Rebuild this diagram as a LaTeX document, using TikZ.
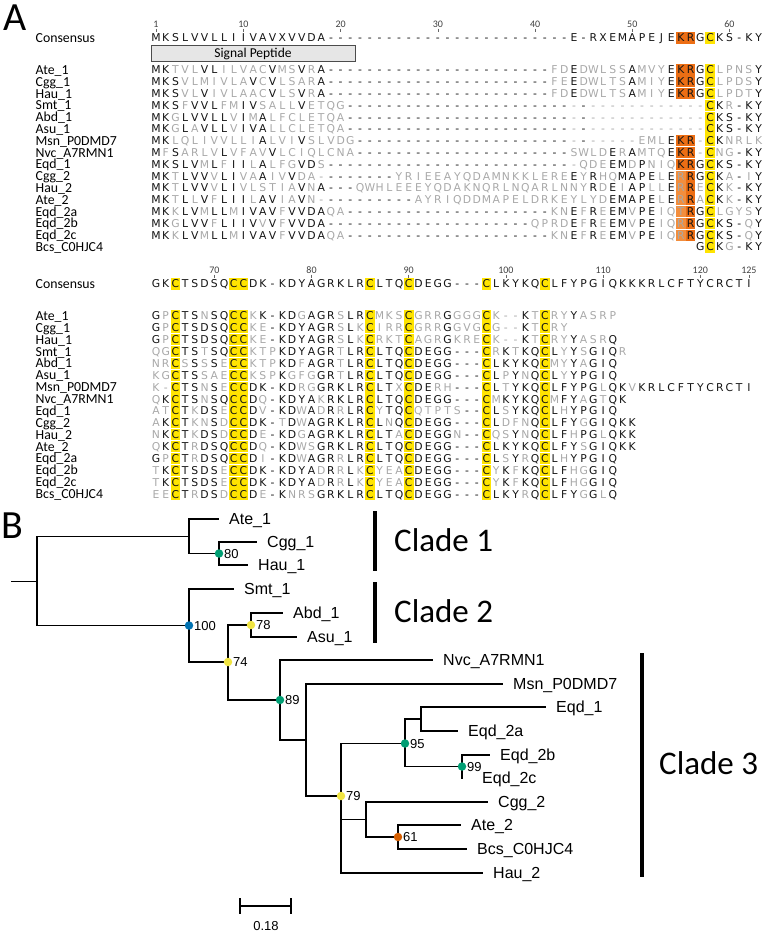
\documentclass[tikz,border=0pt]{standalone}
\usepackage{fontspec}
\usepackage{xcolor}
\usepackage{tikz}
\usetikzlibrary{positioning}
\setmainfont{Carlito}
\newfontfamily\resfam{DejaVu Sans}
\newfontfamily\treefam{Liberation Sans}

\definecolor{resdark}{RGB}{20,20,20}
\definecolor{reslight}{RGB}{168,168,168}
\definecolor{cysbox}{RGB}{255,228,0}
\definecolor{krdark}{RGB}{236,110,20}
\definecolor{krlight}{RGB}{242,142,62}
\definecolor{sigfill}{RGB}{230,230,230}
\definecolor{bsgreen}{RGB}{0,158,115}
\definecolor{bsblue}{RGB}{0,114,178}
\definecolor{bsyellow}{RGB}{240,228,66}
\definecolor{bsorange}{RGB}{213,94,0}

\tikzstyle{res} = [inner sep=0pt, text height=7.9pt, text depth=0pt, font=\resfam\fontsize{10.8}{10.8}\selectfont]
\tikzstyle{rowlab} = [anchor=west, inner sep=0pt, text height=8.9pt, text depth=0pt, font=\fontsize{13.8}{13.8}\selectfont]
\tikzstyle{posnum} = [inner sep=0pt, text=black!75, font=\fontsize{10}{10}\selectfont]
\tikzstyle{tickmark} = [black!60, line width=0.6pt]
\tikzstyle{sigbox} = [draw=black!70, fill=sigfill, line width=0.8pt, minimum width=204pt, minimum height=15.5pt, inner sep=0pt, font=\fontsize{13.5}{13.5}\selectfont]
\tikzstyle{panel} = [anchor=west, inner sep=0pt, font=\fontsize{40}{40}\selectfont]
\tikzstyle{branch} = [line width=1.4pt]
\tikzstyle{leaf} = [inner sep=0pt, text height=11.5pt, text depth=0pt, font=\treefam\fontsize{16}{16}\selectfont]
\tikzstyle{bsdot} = [circle, inner sep=0pt, minimum size=8.5pt]
\tikzstyle{boot} = [inner sep=0pt, text height=9.3pt, text depth=0pt, font=\treefam\fontsize{13}{13}\selectfont]
\tikzstyle{cladebar} = [line width=4.5pt]
\tikzstyle{clade} = [anchor=west, inner sep=0pt, text height=21.3pt, text depth=0pt, font=\fontsize{33}{33}\selectfont]

% alignment grid
\def\xzero{156}
\def\colw{9.72}
\newcount\rescol
\def\rep#1#2{\ifnum#1>0 #2\expandafter\rep\expandafter{\the\numexpr#1-1\relax}{#2}\fi}
\expandafter\def\csname cys58\endcsname{}
\expandafter\def\csname cys66\endcsname{}
\expandafter\def\csname cys72\endcsname{}
\expandafter\def\csname cys73\endcsname{}
\expandafter\def\csname cys86\endcsname{}
\expandafter\def\csname cys90\endcsname{}
\expandafter\def\csname cys98\endcsname{}
\expandafter\def\csname cys104\endcsname{}
\expandafter\def\csname kr55\endcsname{}
\expandafter\def\csname kr56\endcsname{}

\def\seqrow#1#2#3#4#5#6{%
  \def\rowtag{#1}\def\rowy{#3}\def\firstcol{#4}\rescol=#4\relax
  \node (#1-lab) [rowlab] at (35.5,#3) {#2};
  \edef\seqtmp{\noexpand\seqwalk#5\relax#6\relax}\seqtmp}
\def\seqwalk#1#2\relax#3#4\relax{%
  \seqres{#1}{#3}%
  \advance\rescol by 1\relax
  \ifx\relax#2\relax\expandafter\seqstop\else\expandafter\seqnext\fi{#2}{#4}}
\def\seqstop#1#2{}
\def\seqnext#1#2{\seqwalk#1\relax#2\relax}
\def\seqres#1#2{%
  \pgfmathsetmacro\resx{\xzero+(\the\rescol-\firstcol)*\colw}%
  \if.#1\else
    \ifx#1#2\def\rescolor{resdark}\else\def\rescolor{reslight}\fi
    \ifcsname cys\the\rescol\endcsname
      \if C#1\fill [cysbox] (\resx-4.86,\rowy-5.6) rectangle (\resx+4.86,\rowy+5.6);\fi
    \fi
    \ifcsname kr\the\rescol\endcsname
      \if-#1\else
        \ifx#1#2\fill [krdark] (\resx-4.86,\rowy-5.6) rectangle (\resx+4.86,\rowy+5.6);%
        \else\fill [krlight] (\resx-4.86,\rowy-5.6) rectangle (\resx+4.86,\rowy+5.6);\fi
      \fi
    \fi
    \node (\rowtag-\the\rescol) [res, text=\rescolor] at (\resx,\rowy) {#1};
  \fi}

\edef\consA{MKSLVVLLIIVAVXVVDA\rep{25}{-}E-RXEMAPEJEKRGCKS-KY}
\edef\consB{GKCTSDSQCCDK-KDYAGRKLRCLTQCDEGG---CLKYKQCLFYPGIQKKKRLCFTYCRCTI}

\begin{document}
\begin{tikzpicture}[x=1pt, y=-1pt]
        \useasboundingbox (0,0) rectangle (764,935);

        \node (panelA) [panel] at (3,18) {A};
        \node (panelB) [panel] at (1,526) {B};

        % block 1
        \foreach \c in {1,10,20,30,40,50,60} {
            \pgfmathsetmacro\tx{\xzero+(\c-1)*\colw}
            \node (tickA\c) [posnum] at (\tx,24) {\c};
            \draw [tickmark] (\tx,28.5) -- (\tx,31.5);
        }
        \seqrow{consa}{Consensus}{38}{1}{\consA}{\consA}
        \node (sigpep) [sigbox] at (253,53.5) {Signal Peptide};
        \seqrow{ate1a}{Ate\_1}{70}{1}{MKTVLVLILVACVMSVRA\rep{23}{-}FDEDWLSSAMVYEKRGCLPNSY}{\consA}
        \seqrow{cgg1a}{Cgg\_1}{81.8}{1}{MKSVLMIVLAVCVLSARA\rep{23}{-}FEEDWLTSAMIYEKRGCLPDSY}{\consA}
        \seqrow{hau1a}{Hau\_1}{93.6}{1}{MKSVLVIVLAACVLSVRA\rep{23}{-}FDEDWLTSAMIYEKRGCLPDTY}{\consA}
        \seqrow{smt1a}{Smt\_1}{105.4}{1}{MKSFVVLFMIVSALLVETQG\rep{37}{-}CKR-KY}{\consA}
        \seqrow{abd1a}{Abd\_1}{117.2}{1}{MKGLVVLLVIMALFCLETQA\rep{37}{-}CKS-KY}{\consA}
        \seqrow{asu1a}{Asu\_1}{129}{1}{MKGLAVLLVIVALLCLETQA\rep{37}{-}CKS-KY}{\consA}
        \seqrow{msna}{Msn\_P0DMD7}{140.8}{1}{MKLQLIVVLLIALVIVSLVDG\rep{29}{-}EMLEKR-CKNRLK}{\consA}
        \seqrow{nvca}{Nvc\_A7RMN1}{152.6}{1}{MFSARLVLVFAVVLCIQLCNA\rep{22}{-}SWLDERAMTQEKR-CNG-KY}{\consA}
        \seqrow{eqd1a}{Eqd\_1}{164.4}{1}{MKSLVMLFIILALFGVDS\rep{26}{-}QDEEMDPNIQKRGCKS-KY}{\consA}
        \seqrow{cgg2a}{Cgg\_2}{176.2}{1}{MKTLVVVLIVAAIVVDA\rep{8}{-}YRIEEAYQDAMNKKLEREEYRHQMAPELERRGCKA-IY}{\consA}
        \seqrow{hau2a}{Hau\_2}{188}{1}{MKTLVVVLIVLSTIAVNA\rep{3}{-}QWHLEEEYQDAKNQRLNQARLNNYRDEIAPLLERRECKK-KY}{\consA}
        \seqrow{ate2a}{Ate\_2}{199.8}{1}{MKTLLVFLIILAVIAVN\rep{10}{-}AYRIQDDMAPELDRKEYLYDEMAPELERRACKK-KY}{\consA}
        \seqrow{eqd2aa}{Eqd\_2a}{211.6}{1}{MKKLVMLLMIVAVFVVDAQA\rep{21}{-}KNEFREEMVPEIQTRGCLGYSY}{\consA}
        \seqrow{eqd2ba}{Eqd\_2b}{223.4}{1}{MKGLVVFLIIVVVFVVDA\rep{21}{-}QPRDEFREEMVPEIQRRGCKS-QY}{\consA}
        \seqrow{eqd2ca}{Eqd\_2c}{235.2}{1}{MKKLVMLLMIVAVFVVDAQA\rep{21}{-}KNEFREEMVPEIQRRGCKS-QY}{\consA}
        \seqrow{bcsa}{Bcs\_C0HJC4}{247}{1}{\rep{56}{.}GCKG-KY}{\consA}

        % block 2
        \foreach \c in {70,80,90,100,110,120,125} {
            \pgfmathsetmacro\tx{\xzero+(\c-64)*\colw}
            \node (tickB\c) [posnum] at (\tx,270) {\c};
            \draw [tickmark] (\tx,274.5) -- (\tx,277.5);
        }
        \seqrow{consb}{Consensus}{284}{64}{\consB}{\consB}
        \seqrow{ate1b}{Ate\_1}{316}{64}{GPCTSNSQCCKK-KDGAGRSLRCMKSCGRRGGGGCK--KTCRYYASRP}{\consB}
        \seqrow{cgg1b}{Cgg\_1}{327.87}{64}{GPCTSDSQCCKE-KDYAGRSLKCIRRCGRRGGVGCG--KTCRY}{\consB}
        \seqrow{hau1b}{Hau\_1}{339.74}{64}{GPCTSDSQCCKE-KDYAGRSLKCRKTCAGRGKRECK--KTCRYYASRQ}{\consB}
        \seqrow{smt1b}{Smt\_1}{351.61}{64}{QGCTSTSQCCKTPKDYAGRTLRCLTQCDEGG---CRKTKQCLYYSGIQR}{\consB}
        \seqrow{abd1b}{Abd\_1}{363.48}{64}{NRCSSSSECCKTPKDFAGRTLRCLTQCDEGG---CLKYKQCMYYAGIQ}{\consB}
        \seqrow{asu1b}{Asu\_1}{375.35}{64}{KGCTSSAECCKSPKGFGGRTLRCLTQCDEGG---CLPYNQCLYYPGIQ}{\consB}
        \seqrow{msnb}{Msn\_P0DMD7}{387.22}{64}{K-CTSNSECCDK-KDRGGRKLRCLTXCDERH---CLTYKQCLFYPGLQKVKRLCFTYCRCTI}{\consB}
        \seqrow{nvcb}{Nvc\_A7RMN1}{399.09}{64}{QKCTSNSQCCDQ-KDYAKRKLRCLTQCDEGG---CMKYKQCMFYAGTQK}{\consB}
        \seqrow{eqd1b}{Eqd\_1}{410.96}{64}{ATCTKDSECCDV-KDWADRRLRCYTQCQTPTS--CLSYKQCLHYPGIQ}{\consB}
        \seqrow{cgg2b}{Cgg\_2}{422.83}{64}{AKCTKNSDCCDK-TDWAGRKLRCLNQCDEGG---CLDFNQCLFYGGIQKK}{\consB}
        \seqrow{hau2b}{Hau\_2}{434.7}{64}{NKCTKDSDCCDE-KDGAGRKLRCLTACDEGGN--CQSYNQCLFHPGLQKK}{\consB}
        \seqrow{ate2b}{Ate\_2}{446.57}{64}{QKCTRDSQCCDQ-KDWSGRKLRCLTQCDEGG---CLKYKQCLFYSGIQKK}{\consB}
        \seqrow{eqd2ab}{Eqd\_2a}{458.44}{64}{GPCTRDSQCCDI-KDWAGRRLRCLTQCDEGG---CLSYRQCLHYPGIQ}{\consB}
        \seqrow{eqd2bb}{Eqd\_2b}{470.31}{64}{TKCTSDSECCDK-KDYADRRLKCYEACDEGG---CYKFKQCLFHGGIQ}{\consB}
        \seqrow{eqd2cb}{Eqd\_2c}{482.18}{64}{TKCTSDSECCDK-KDYADRRLKCYEACDEGG---CYKFKQCLFHGGIQ}{\consB}
        \seqrow{bcsb}{Bcs\_C0HJC4}{494.05}{64}{EECTRDSDCCDE-KNRSGRKLRCLTQCDEGG---CLKYRQCLFYGGLQ}{\consB}

        % tree
        \coordinate (stub) at (11,581.5);
        \coordinate (root) at (37,581.5);
        \coordinate (nC1) at (189,536.5);
        \coordinate (n80) at (219,553.5);
        \coordinate (n100) at (189,625.5);
        \coordinate (n78) at (251,625);
        \coordinate (n74) at (228,662);
        \coordinate (n89) at (280,700);
        \coordinate (nMsn) at (306,740);
        \coordinate (n79) at (341,796);
        \coordinate (n95) at (405,743.5);
        \coordinate (nEqd) at (421,719);
        \coordinate (n99) at (462,766.5);
        \coordinate (nCA) at (366,819.5);
        \coordinate (n61) at (398,837);

        \coordinate (pAte1) at (219,519);
        \coordinate (pCgg1) at (257,542);
        \coordinate (pHau1) at (248,565);
        \coordinate (pSmt1) at (234,589);
        \coordinate (pAbd1) at (283,613);
        \coordinate (pAsu1) at (297,637);
        \coordinate (pNvc) at (433,660);
        \coordinate (pMsn) at (503,684);
        \coordinate (pEqd1) at (546,707);
        \coordinate (pEqd2a) at (458,731);
        \coordinate (pEqd2b) at (490,755);
        \coordinate (pEqd2c) at (463,778);
        \coordinate (pCgg2) at (488,802);
        \coordinate (pAte2) at (461,825);
        \coordinate (pBcs) at (467,849);
        \coordinate (pHau2) at (483,873);

        \draw [branch] (stub) -- (root);
        \draw [branch] (root) |- (nC1);
        \draw [branch] (root) |- (n100);
        \draw [branch] (nC1) |- (pAte1);
        \draw [branch] (nC1) |- (n80);
        \draw [branch] (n80) |- (pCgg1);
        \draw [branch] (n80) |- (pHau1);
        \draw [branch] (n100) |- (pSmt1);
        \draw [branch] (n100) |- (n74);
        \draw [branch] (n74) |- (n78);
        \draw [branch] (n74) |- (n89);
        \draw [branch] (n78) |- (pAbd1);
        \draw [branch] (n78) |- (pAsu1);
        \draw [branch] (n89) |- (pNvc);
        \draw [branch] (n89) |- (nMsn);
        \draw [branch] (nMsn) |- (pMsn);
        \draw [branch] (nMsn) |- (n79);
        \draw [branch] (n79) |- (n95);
        \draw [branch] (n79) |- (nCA);
        \draw [branch] (n79) |- (pHau2);
        \draw [branch] (n95) |- (nEqd);
        \draw [branch] (n95) |- (n99);
        \draw [branch] (nEqd) |- (pEqd1);
        \draw [branch] (nEqd) |- (pEqd2a);
        \draw [branch] (n99) |- (pEqd2b);
        \draw [branch] (n99) |- (pEqd2c);
        \draw [branch] (nCA) |- (pCgg2);
        \draw [branch] (nCA) |- (n61);
        \draw [branch] (n61) |- (pAte2);
        \draw [branch] (n61) |- (pBcs);

        \node (tAte1) [leaf, right=10pt of pAte1] {Ate\_1};
        \node (tCgg1) [leaf, right=10pt of pCgg1] {Cgg\_1};
        \node (tHau1) [leaf, right=10pt of pHau1] {Hau\_1};
        \node (tSmt1) [leaf, right=10pt of pSmt1] {Smt\_1};
        \node (tAbd1) [leaf, right=10pt of pAbd1] {Abd\_1};
        \node (tAsu1) [leaf, right=10pt of pAsu1] {Asu\_1};
        \node (tNvc) [leaf, right=10pt of pNvc] {Nvc\_A7RMN1};
        \node (tMsn) [leaf, right=10pt of pMsn] {Msn\_P0DMD7};
        \node (tEqd1) [leaf, right=10pt of pEqd1] {Eqd\_1};
        \node (tEqd2a) [leaf, right=10pt of pEqd2a] {Eqd\_2a};
        \node (tEqd2b) [leaf, right=10pt of pEqd2b] {Eqd\_2b};
        \node (tEqd2c) [leaf, right=19pt of pEqd2c] {Eqd\_2c};
        \node (tCgg2) [leaf, right=10pt of pCgg2] {Cgg\_2};
        \node (tAte2) [leaf, right=10pt of pAte2] {Ate\_2};
        \node (tBcs) [leaf, right=10pt of pBcs] {Bcs\_C0HJC4};
        \node (tHau2) [leaf, right=10pt of pHau2] {Hau\_2};

        % bootstrap support
        \node (d80) [bsdot, fill=bsgreen] at (n80) {};
        \node (d100) [bsdot, fill=bsblue] at (n100) {};
        \node (d78) [bsdot, fill=bsyellow] at (n78) {};
        \node (d74) [bsdot, fill=bsyellow] at (n74) {};
        \node (d89) [bsdot, fill=bsgreen] at (n89) {};
        \node (d79) [bsdot, fill=bsyellow] at (n79) {};
        \node (d95) [bsdot, fill=bsgreen] at (n95) {};
        \node (d99) [bsdot, fill=bsgreen] at (n99) {};
        \node (d61) [bsdot, fill=bsorange] at (n61) {};
        \node (b80) [boot, right=0.5pt of d80] {80};
        \node (b100) [boot, right=0.5pt of d100] {100};
        \node (b78) [boot, right=0.5pt of d78] {78};
        \node (b74) [boot, right=0.5pt of d74] {74};
        \node (b89) [boot, right=0.5pt of d89] {89};
        \node (b79) [boot, right=0.5pt of d79] {79};
        \node (b95) [boot, right=0.5pt of d95] {95};
        \node (b99) [boot, right=0.5pt of d99] {99};
        \node (b61) [boot, right=0.5pt of d61] {61};

        % clades
        \draw [cladebar] (375,511) -- (375,571);
        \draw [cladebar] (375,582) -- (375,643);
        \draw [cladebar] (642,653) -- (642,877);
        \node (clade1) [clade] at (394,541) {Clade 1};
        \node (clade2) [clade] at (394,612) {Clade 2};
        \node (clade3) [clade] at (659,764) {Clade 3};

        % scale bar
        \coordinate (sbL) at (240,906);
        \coordinate (sbR) at (291,906);
        \draw [branch] (sbL) -- (sbR);
        \draw [branch] ([yshift=8pt]sbL) -- ([yshift=-8pt]sbL);
        \draw [branch] ([yshift=8pt]sbR) -- ([yshift=-8pt]sbR);
        \node (sblab) [boot] at (266,926) {0.18};
\end{tikzpicture}
\end{document}
